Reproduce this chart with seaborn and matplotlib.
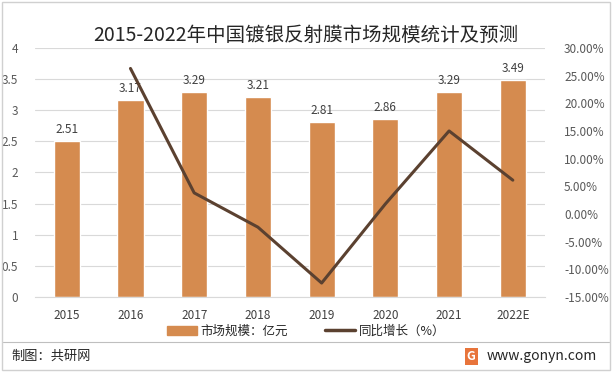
import pandas as pd
import matplotlib.pyplot as plt
import seaborn as sns
from matplotlib.lines import Line2D
from matplotlib.patches import Patch

years = ["2015", "2016", "2017", "2018", "2019", "2020", "2021", "2022E"]
market_size = [2.51, 3.17, 3.29, 3.21, 2.81, 2.86, 3.29, 3.49]
growth = [None, 26.3, 3.8, -2.4, -12.5, 1.8, 15.0, 6.1]

df = pd.DataFrame({"年份": years, "市场规模": market_size, "增长": growth})

sns.set_style("white")
plt.rcParams["font.family"] = ["Noto Sans CJK SC", "DejaVu Sans"]

bar_color = "#D58B4F"
line_color = "#5B4130"
text_color = "#404040"

fig = plt.figure(figsize=(6.12, 3.72), dpi=100)
ax = fig.add_axes([0.057, 0.202, 0.833, 0.669])

sns.barplot(data=df, x="年份", y="市场规模", color=bar_color, width=0.41,
            saturation=1, ax=ax, zorder=2)
ax.set_ylim(0, 4)
ax.set_xlim(-0.5, 7.5)
ax.set_yticks([0, 0.5, 1, 1.5, 2, 2.5, 3, 3.5, 4])
ax.set_yticklabels(["0", "0.5", "1", "1.5", "2", "2.5", "3", "3.5", "4"])
ax.grid(axis="y", color="#D9D9D9", linewidth=0.8, zorder=0)
ax.set_xlabel("")
ax.set_ylabel("")
for s in ax.spines.values():
    s.set_visible(False)
ax.spines["bottom"].set_visible(True)
ax.spines["bottom"].set_color("#D9D9D9")
ax.tick_params(axis="y", length=0, labelsize=8.5, labelcolor="#595959", pad=12)
ax.tick_params(axis="x", length=0, labelsize=8.5, labelcolor=text_color, pad=9)

for i, v in enumerate(market_size):
    ax.text(i, v + 0.08, f"{v:.2f}", ha="center", va="bottom", fontsize=8.5,
            color=text_color)

ax2 = ax.twinx()
line_df = df.dropna()
sns.lineplot(x=line_df.index, y=line_df["增长"], color=line_color,
             linewidth=2.2, ax=ax2, zorder=3)
ax2.set_ylim(-15, 30)
ax2.set_yticks(range(-15, 31, 5))
ax2.set_yticklabels([f"{t:.2f}%" for t in range(-15, 31, 5)])
ax2.set_ylabel("")
for s in ax2.spines.values():
    s.set_visible(False)
ax2.tick_params(axis="y", length=0, labelsize=8.5, labelcolor="#595959", pad=14)

fig.text(0.5, 0.905, "2015-2022年中国镀银反射膜市场规模统计及预测", ha="center",
         va="center", fontsize=14, color="#262626")

handles = [Patch(color=bar_color, label="市场规模：亿元"),
           Line2D([0], [0], color=line_color, linewidth=2.5, label="同比增长（%）")]
fig.legend(handles=handles, loc="center", bbox_to_anchor=(0.5, 0.11), ncol=2,
           frameon=False, fontsize=9, handlelength=2.4, columnspacing=3,
           handletextpad=0.3)

fig.add_artist(Line2D([0.005, 0.995], [0.08, 0.08], color="#BFBFBF",
                      linewidth=0.8))
fig.add_artist(plt.Rectangle((0.003, 0.005), 0.994, 0.99, fill=False,
                             edgecolor="#D0D0D0", linewidth=1))
fig.text(0.018, 0.042, "制图：共研网", ha="left", va="center", fontsize=9.5,
         color="#262626")
fig.text(0.975, 0.042, "www.gonyn.com", ha="right", va="center", fontsize=10,
         color="#262626")
fig.text(0.77, 0.042, "G", ha="center", va="center", fontsize=9, color="white",
         fontweight="bold",
         bbox=dict(boxstyle="square,pad=0.15", facecolor="#E8743B",
                   edgecolor="none"))

fig.savefig("out.png", dpi=100)
